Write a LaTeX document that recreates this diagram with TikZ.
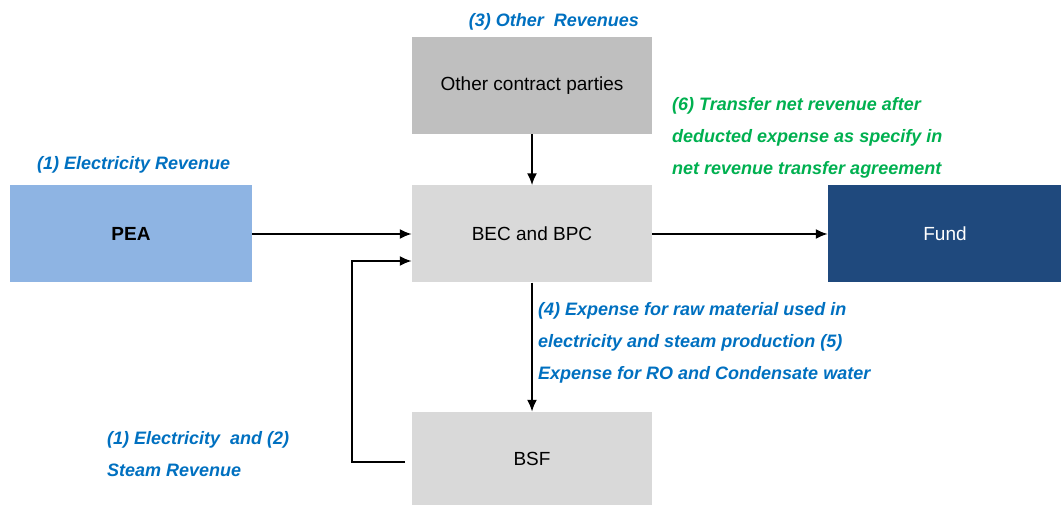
\documentclass[tikz,border=0pt]{standalone}
\usepackage{fontspec}
\setmainfont{Liberation Sans}
\usetikzlibrary{arrows.meta,calc}
\definecolor{lblue}{HTML}{0070C0}
\definecolor{lgreen}{HTML}{00B050}
\definecolor{peablue}{HTML}{8EB4E3}
\definecolor{funddark}{HTML}{1F497D}
\definecolor{gmid}{HTML}{BFBFBF}
\definecolor{glight}{HTML}{D9D9D9}
\tikzset{
  box/.style={draw=none, minimum width=240pt, minimum height=97pt, inner sep=0pt, font=\fontsize{19}{22}\selectfont},
  lbl/.style={font=\fontsize{18}{32}\selectfont\bfseries\itshape, text=lblue, inner sep=0pt, align=left},
  arr/.style={-{Latex[length=12pt,width=10pt]}, line width=2pt, draw=black}
}
\begin{document}
\begin{tikzpicture}[x=1pt,y=-1pt]
\useasboundingbox (0,0) rectangle (1061,505);
\node[box, fill=gmid] (other) at (532,85.5) {Other contract parties};
\node[box, fill=peablue, minimum width=242pt, font=\fontsize{19}{22}\selectfont\bfseries] (pea) at (131,234) {PEA};
\node[box, fill=glight] (bec) at (532,234) {BEC and BPC};
\node[box, fill=funddark, minimum width=234pt, text=white] (fund) at (945,234) {Fund};
\node[box, fill=glight, minimum height=93pt] (bsf) at (532,458.5) {BSF};

\node[lbl, anchor=base] (l3) at (554,27) {(3) Other\ \ Revenues};
\node[lbl, anchor=base west] (l1) at (37,170) {(1) Electricity Revenue};
\node[lbl, anchor=north west, text=lgreen] (l6) at (672,97) {(6) Transfer net revenue after\\deducted expense as specify in\\net revenue transfer agreement};
\node[lbl, anchor=north west] (l4) at (538,302) {(4) Expense for raw material used in\\electricity\ and steam production (5)\\Expense for RO and Condensate water};
\node[lbl, anchor=north west] (l12) at (107,431) {(1) Electricity\ \ and (2)\\Steam Revenue};

\draw[arr] (pea.east) -- (bec.west);
\draw[arr] (other.south) -- (bec.north);
\draw[arr] (bec.east) -- (fund.west);
\draw[arr] (bec.south) -- (bsf.north);
\coordinate (bsfout) at (405,462);
\coordinate (corner) at (352,462);
\coordinate (becin) at ($(bec.west)+(0,27)$);
\draw[arr] (bsfout) -- (corner) |- (becin);
\end{tikzpicture}
\end{document}
